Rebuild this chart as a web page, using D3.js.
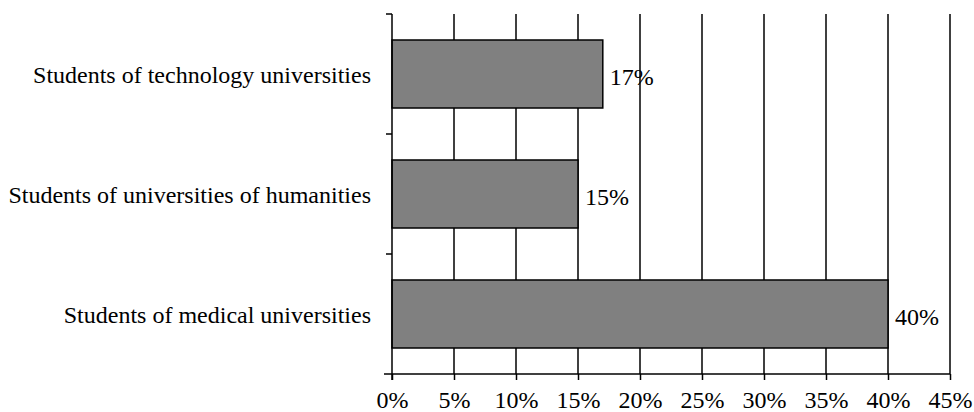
<!DOCTYPE html>
<html><head><meta charset="utf-8">
<script src="https://cdn.jsdelivr.net/npm/d3@7"></script>
<style>body{margin:0;background:#fff}</style>
</head><body><svg id="c" width="974" height="412"></svg>
<script>
const categories = ["Students of technology universities","Students of universities of humanities","Students of medical universities"];
const values = [17, 15, 40];
const xTicks = [0,5,10,15,20,25,30,35,40,45];

const svg = d3.select("#c");
const FONT = '"Liberation Serif", "Times New Roman", Tinos';
const FS = 24;
const m = {l:392, r:950, t:14, b:374};
const x = d3.scaleLinear().domain([0,45]).range([m.l, m.r]);
const y = d3.scaleBand().domain(categories).range([m.t, m.b]).paddingInner(0.4333).paddingOuter(0.2167);

// gridlines
svg.append("g").selectAll("line").data(xTicks.slice(1)).join("line")
  .attr("x1", d=>x(d)).attr("x2", d=>x(d)).attr("y1", m.t).attr("y2", m.b)
  .attr("stroke","#000").attr("stroke-width",1.5);

// bars
svg.append("g").selectAll("rect").data(values).join("rect")
  .attr("x", x(0)).attr("y", (d,i)=>y(categories[i]))
  .attr("width", d=>x(d)-x(0)).attr("height", y.bandwidth())
  .attr("fill","#808080").attr("stroke","#000").attr("stroke-width",1.5);

// value labels
svg.append("g").selectAll("text").data(values).join("text")
  .attr("x", d=>x(d)+7).attr("y", (d,i)=>y(categories[i])+y.bandwidth()/2)
  .attr("dy","0.46em").style("font-family",FONT).style("font-size",FS+"px").attr("fill","#000").text(d=>d+"%");

// x axis
const xAxis = d3.axisBottom(x).tickValues(xTicks).tickFormat(d=>d+"%").tickSize(6).tickSizeOuter(0);
const gx = svg.append("g").attr("transform",`translate(0,${m.b})`).call(xAxis);
gx.select(".domain").attr("stroke","#000").attr("stroke-width",1.5).attr("d",`M${m.l-8},0H${m.r}`);
gx.selectAll(".tick line").attr("stroke","#000").attr("stroke-width",1.5);
gx.selectAll(".tick text").style("font-family",FONT).style("font-size",FS+"px")
  .attr("y",34).attr("dy",0).attr("fill","#000");

// y axis
const bounds = [0,1,2].map(i=>m.t + i*(m.b-m.t)/3);
svg.append("line").attr("x1",m.l).attr("x2",m.l).attr("y1",m.t).attr("y2",m.b+6).attr("stroke","#000").attr("stroke-width",1.5);
svg.append("g").selectAll("line").data(bounds).join("line")
  .attr("x1",m.l-6).attr("x2",m.l).attr("y1",d=>d).attr("y2",d=>d).attr("stroke","#000").attr("stroke-width",1.5);

svg.append("g").selectAll("text").data(categories).join("text")
  .attr("x", 371).attr("y", d=>y(d)+y.bandwidth()/2).attr("dy","0.39em")
  .attr("text-anchor","end").style("font-family",FONT).style("font-size",FS+"px").attr("fill","#000").text(d=>d);
</script></body></html>
